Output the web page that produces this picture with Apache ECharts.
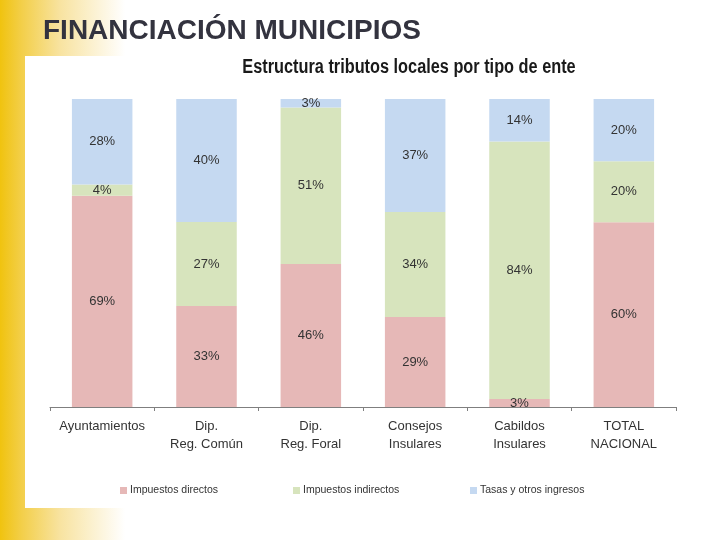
<!DOCTYPE html>
<html>
<head>
<meta charset="utf-8">
<script src="https://cdn.jsdelivr.net/npm/echarts@6/dist/echarts.min.js"></script>
<style>
  html, body { margin: 0; padding: 0; }
  body { width: 720px; height: 540px; position: relative; overflow: hidden;
    background: linear-gradient(to right, #f0c30f 0px, #f3cf4a 22px, #f8e3a0 60px, #ffffff 125px); }
  #panel { position: absolute; left: 25px; top: 56px; width: 695px; height: 452px; background: #ffffff; }
  #chart { position: absolute; left: 0; top: 0; width: 720px; height: 540px; }
</style>
</head>
<body>
<div id="panel"></div>
<div id="chart"></div>
<script>
const categories = ['Ayuntamientos', 'Dip.\nReg. Común', 'Dip.\nReg. Foral', 'Consejos\nInsulares', 'Cabildos\nInsulares', 'TOTAL\nNACIONAL'];
const seriesNames = ['Impuestos directos', 'Impuestos indirectos', 'Tasas y otros ingresos'];
const directos   = [68.6, 32.8, 46.4, 29.2, 2.6, 60.0];
const indirectos = [3.6, 27.3, 50.8, 34.1, 83.6, 19.8];
const tasas      = [27.8, 39.9, 2.8, 36.7, 13.8, 20.2];
const colors = ['#e6b8b7', '#d7e4bd', '#c5d9f1'];
const pageTitle = 'FINANCIACIÓN MUNICIPIOS';
const chartTitle = 'Estructura tributos locales por tipo de ente';

const sans = "'Liberation Sans', Arial, sans-serif";
const chart = echarts.init(document.getElementById('chart'), null, { renderer: 'canvas' });

function mk(name, data, color) {
  return {
    name: name, type: 'bar', stack: 'total', data: data, barWidth: '58%',
    itemStyle: { color: color },
    label: { show: true, position: 'inside', color: '#333333', fontFamily: sans, fontSize: 13,
      formatter: p => Math.round(p.value) + '%' },
    emphasis: { disabled: true }
  };
}

function legendAt(idx, left) {
  return {
    data: [seriesNames[idx]], left: left, top: 485, itemWidth: 7, itemHeight: 7,
    icon: 'rect', padding: 0,
    textStyle: { fontFamily: sans, fontSize: 10.5, color: '#333333', padding: [0, 0, 0, -2] }
  };
}

chart.setOption({
  animation: false,
  backgroundColor: 'transparent',
  graphic: [
    { type: 'text', left: 43, top: 17, silent: true,
      style: { text: pageTitle, font: "bold 28px 'Liberation Sans', Arial, sans-serif", fill: '#33333f' } },
    { type: 'text', x: 409, y: 57, scaleX: 0.815, silent: true,
      style: { text: chartTitle, font: "bold 20px 'Liberation Sans', Arial, sans-serif", fill: '#1a1a1a',
        textAlign: 'center', textVerticalAlign: 'top' } }
  ],
  legend: [legendAt(0, 120), legendAt(1, 293), legendAt(2, 470)],
  grid: { left: 50, right: 44, top: 99, bottom: 133 },
  xAxis: {
    type: 'category', data: categories,
    axisLine: { lineStyle: { color: '#7f7f7f', width: 1 } },
    axisTick: { show: true, length: 4, lineStyle: { color: '#7f7f7f' } },
    axisLabel: { fontFamily: sans, fontSize: 13, color: '#333333', lineHeight: 18, margin: 10, interval: 0 }
  },
  yAxis: {
    type: 'value', min: 0, max: 100, show: false, splitLine: { show: false }
  },
  series: [
    mk(seriesNames[0], directos, colors[0]),
    mk(seriesNames[1], indirectos, colors[1]),
    mk(seriesNames[2], tasas, colors[2])
  ]
});
</script>
</body>
</html>
